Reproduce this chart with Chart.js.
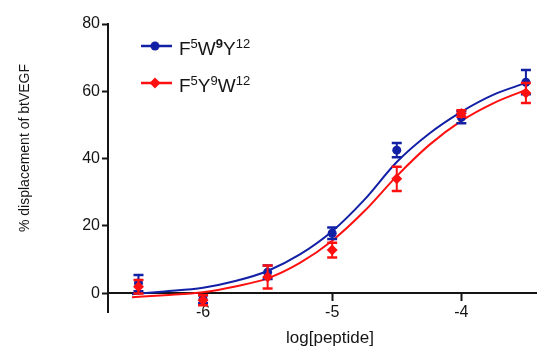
<!DOCTYPE html>
<html>
<head>
<meta charset="utf-8">
<script src="https://cdn.jsdelivr.net/npm/chart.js@4.4.1/dist/chart.umd.min.js"></script>
<style>
  html, body { margin: 0; padding: 0; background: #fff; }
  #wrap { width: 542px; height: 348px; }
</style>
</head>
<body>
<div id="wrap"><canvas id="chart" width="542" height="348"></canvas></div>
<script>
// measured points: log[peptide] vs % displacement (mean +/- error)
const logDose = [-6.5, -6, -5.5, -5, -4.5, -4, -3.5];
const fwyMean = [3.0, -1.8, 6.2, 17.8, 42.5, 52.3, 62.7];
const fwyErr  = [2.4, 1.2, 2.0, 1.7, 2.1, 1.8, 3.6];
const fywMean = [1.9, -2.1, 4.8, 12.8, 34.0, 53.4, 59.5];
const fywErr  = [2.0, 1.5, 3.4, 2.2, 3.6, 1.0, 3.0];

// fitted curves
const fitX   = [-6.55, -6.3, -6, -5.75, -5.5, -5.25, -5, -4.75, -4.5, -4.25, -4, -3.75, -3.5];
const fwyFit = [-0.3, 0.5, 1.6, 3.6, 6.6, 11.5, 18.4, 27.8, 39.0, 47.4, 53.9, 59.0, 62.5];
const fywFit = [-1.2, -0.6, 0.3, 2.0, 4.4, 9.0, 15.6, 24.4, 34.8, 44.0, 51.2, 56.5, 60.4];

const xTicks = [-6, -5, -4];
const yTicks = [0, 20, 40, 60, 80];

const BLUE = '#1220a6';
const RED = '#ff1010';
const AXIS = '#151515';
const FONT = "'Liberation Sans', Arial, sans-serif";

const pts = (xs, ys) => xs.map((x, i) => ({ x: x, y: ys[i] }));

// error bars drawn just before each point dataset
const errorBars = {
    id: 'errorBars',
    beforeDatasetDraw(chart, args) {
        const ds = chart.data.datasets[args.index];
        if (!ds.errors) return;
        const ctx = chart.ctx;
        const xs = chart.scales.x, ys = chart.scales.y;
        ctx.save();
        ctx.strokeStyle = ds.borderColor;
        ds.data.forEach((p, i) => {
            const px = xs.getPixelForValue(p.x);
            const top = ys.getPixelForValue(p.y + ds.errors[i]);
            const bot = ys.getPixelForValue(p.y - ds.errors[i]);
            ctx.lineWidth = 2;
            ctx.beginPath();
            ctx.moveTo(px, top);
            ctx.lineTo(px, bot);
            ctx.stroke();
            ctx.lineWidth = 2.5;
            ctx.beginPath();
            ctx.moveTo(px - 5, top); ctx.lineTo(px + 5, top);
            ctx.moveTo(px - 5, bot); ctx.lineTo(px + 5, bot);
            ctx.stroke();
        });
        ctx.restore();
    }
};

// axis titles and the legend with superscripts
function drawLabel(ctx, x, y, parts) {
    parts.forEach(([txt, sup, bold]) => {
        ctx.font = (bold ? 'bold ' : '') + (sup ? '13px ' : '19px ') + FONT;
        ctx.fillText(txt, x, sup ? y - 7 : y);
        x += ctx.measureText(txt).width;
    });
}

const annotations = {
    id: 'annotations',
    afterDraw(chart) {
        const ctx = chart.ctx;
        ctx.save();
        ctx.fillStyle = AXIS;
        ctx.textAlign = 'center';
        ctx.textBaseline = 'middle';
        ctx.font = '17px ' + FONT;
        ctx.fillText('log[peptide]', 330, 338);

        ctx.translate(25, 148);
        ctx.rotate(-Math.PI / 2);
        ctx.font = '14px ' + FONT;
        ctx.fillText('% displacement of btVEGF', 0, 0);
        ctx.restore();

        ctx.save();
        const rows = [
            { y: 46, color: BLUE, shape: 'circle', parts: [['F'], ['5', 1], ['W'], ['9', 1, 1], ['Y'], ['12', 1]] },
            { y: 83, color: RED, shape: 'diamond', parts: [['F'], ['5', 1], ['Y'], ['9', 1], ['W'], ['12', 1]] }
        ];
        rows.forEach(r => {
            ctx.strokeStyle = r.color;
            ctx.fillStyle = r.color;
            ctx.lineWidth = 2.5;
            ctx.beginPath();
            ctx.moveTo(141, r.y); ctx.lineTo(172, r.y);
            ctx.stroke();
            ctx.beginPath();
            if (r.shape === 'circle') {
                ctx.arc(155, r.y, 4.5, 0, Math.PI * 2);
            } else {
                ctx.moveTo(155, r.y - 5.5); ctx.lineTo(160.5, r.y);
                ctx.lineTo(155, r.y + 5.5); ctx.lineTo(149.5, r.y);
                ctx.closePath();
            }
            ctx.fill();
            ctx.fillStyle = AXIS;
            ctx.textAlign = 'left';
            ctx.textBaseline = 'alphabetic';
            drawLabel(ctx, 179, r.y + 9, r.parts);
        });
        ctx.restore();
    }
};

const ctx = document.getElementById('chart').getContext('2d');
new Chart(ctx, {
    type: 'line',
    data: {
        datasets: [{
            label: 'F5Y9W12',
            data: pts(logDose, fywMean),
            errors: fywErr,
            showLine: false,
            borderColor: RED,
            backgroundColor: RED,
            pointStyle: 'rectRot',
            pointRadius: 5.5,
            pointBorderWidth: 0
        }, {
            label: 'F5W9Y12',
            data: pts(logDose, fwyMean),
            errors: fwyErr,
            showLine: false,
            borderColor: BLUE,
            backgroundColor: BLUE,
            pointStyle: 'circle',
            pointRadius: 4.5,
            pointBorderWidth: 0
        }, {
            label: 'F5Y9W12 fit',
            data: pts(fitX, fywFit),
            borderColor: RED,
            borderWidth: 2,
            pointRadius: 0,
            cubicInterpolationMode: 'monotone'
        }, {
            label: 'F5W9Y12 fit',
            data: pts(fitX, fwyFit),
            borderColor: BLUE,
            borderWidth: 2,
            pointRadius: 0,
            cubicInterpolationMode: 'monotone'
        }]
    },
    options: {
        responsive: false,
        animation: false,
        layout: { padding: { top: 24, right: 0, bottom: 36, left: 0 } },
        plugins: {
            legend: { display: false },
            tooltip: { enabled: false }
        },
        scales: {
            x: {
                type: 'linear',
                position: { y: 0 },
                min: -6.736,
                max: -3.418,
                afterBuildTicks: s => { s.ticks = xTicks.map(v => ({ value: v })); },
                grid: { drawOnChartArea: false, drawTicks: true, tickLength: 7, tickWidth: 2, tickColor: AXIS },
                border: { color: AXIS, width: 2 },
                ticks: { color: AXIS, font: { family: FONT, size: 16 }, padding: 3, maxRotation: 0 }
            },
            y: {
                min: -5.6,
                max: 80,
                afterBuildTicks: s => { s.ticks = yTicks.map(v => ({ value: v })); },
                afterFit: s => { s.width = 108; },
                grid: { drawOnChartArea: false, drawTicks: true, tickLength: 6, tickWidth: 2, tickColor: AXIS },
                border: { color: AXIS, width: 2 },
                ticks: { color: AXIS, font: { family: FONT, size: 16 }, padding: 2 }
            }
        }
    },
    plugins: [errorBars, annotations]
});
</script>
</body>
</html>
